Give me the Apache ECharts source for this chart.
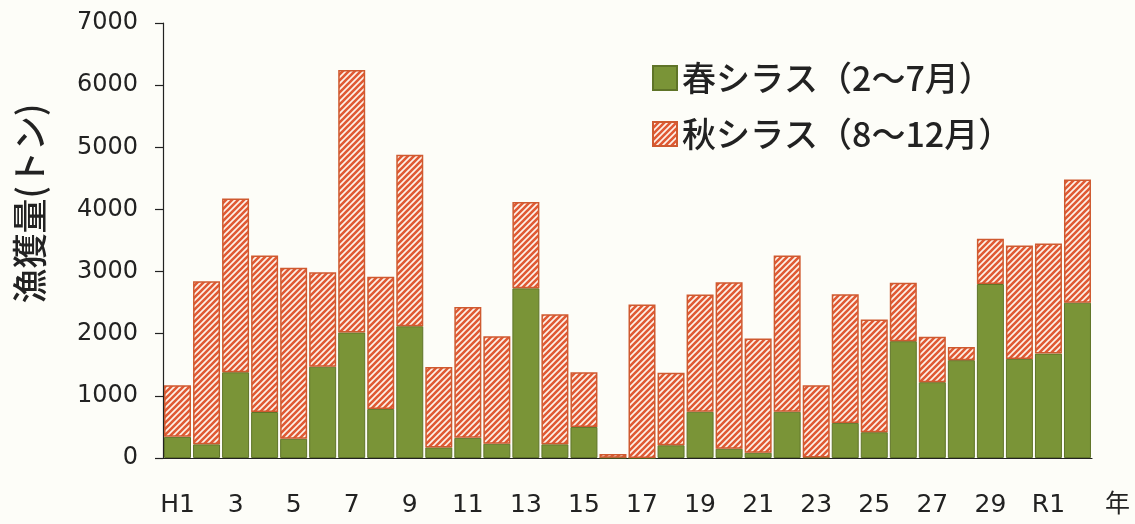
<!DOCTYPE html>
<html>
<head>
<meta charset="utf-8">
<script src="https://cdn.jsdelivr.net/npm/echarts@6/dist/echarts.min.js"></script>
<style>
html,body{margin:0;padding:0;background:#fdfdf8;}
#main{width:1135px;height:524px;}
</style>
</head>
<body>
<div id="main"></div>
<script>
const categories = ['H1','2','3','4','5','6','7','8','9','10','11','12','13','14','15','16','17','18','19','20','21','22','23','24','25','26','27','28','29','30','R1','R2'];
const springValues = [340,220,1380,740,310,1470,2020,790,2120,170,325,230,2730,220,500,5,0,205,745,150,85,745,10,565,415,1880,1220,1575,2800,1595,1680,2500];
const autumnValues = [830,2625,2795,2520,2750,1520,4225,2125,2760,1295,2105,1730,1390,2095,880,60,2470,1165,1885,2680,1840,2515,1160,2070,1815,940,730,210,730,1825,1770,1980];
const yTicks = {min:0, max:7000, interval:1000};
const seriesNames = ['春シラス（2～7月）','秋シラス（8～12月）'];

function makeHatch(){
  const s = 6;
  const c = document.createElement('canvas');
  c.width = s; c.height = s;
  const g = c.getContext('2d');
  g.fillStyle = '#fdf3ea';
  g.fillRect(0,0,s,s);
  g.strokeStyle = '#e05a34';
  g.lineWidth = 2.6;
  g.beginPath();
  g.moveTo(-1, s+1); g.lineTo(s+1, -1);
  g.moveTo(-1, 1); g.lineTo(1, -1);
  g.moveTo(s-1, s+1); g.lineTo(s+1, s-1);
  g.stroke();
  return c;
}
const hatch = {image: makeHatch(), repeat: 'repeat'};

const chart = echarts.init(document.getElementById('main'));
chart.setOption({
  backgroundColor: '#fdfdf8',
  animation: false,
  grid: {left:163, right:43, top:23, bottom:66},
  legend: {
    orient: 'vertical', left: 647, top: 56,
    itemWidth: 24, itemHeight: 24, itemGap: 22, icon: 'rect',
    textStyle: {fontFamily: '"Noto Sans CJK JP"', fontSize: 34, lineHeight: 34, color: '#222', fontWeight: 500},
    data: seriesNames
  },
  xAxis: {
    type: 'category',
    data: categories,
    name: '年',
    nameLocation: 'end',
    nameGap: 13,
    nameTextStyle: {fontFamily: '"Noto Sans CJK JP"', fontSize: 25, color: '#222', verticalAlign: 'top', padding: [32,0,0,0]},
    axisLine: {lineStyle: {color: '#222', width: 1.2}},
    axisTick: {interval: 1, length: 12, lineStyle: {color: '#222', width: 1.2}},
    axisLabel: {interval: 1, margin: 35, fontFamily: '"DejaVu Sans"', fontSize: 25, color: '#222'}
  },
  yAxis: {
    type: 'value',
    min: yTicks.min, max: yTicks.max, interval: yTicks.interval,
    name: '漁獲量(トン)',
    nameLocation: 'middle',
    nameRotate: 90,
    nameGap: 116,
    nameTextStyle: {fontFamily: '"Noto Sans CJK JP"', fontSize: 35, color: '#222', fontWeight: 500, padding: [0,0,0,74]},
    splitLine: {show: false},
    axisLine: {show: true, lineStyle: {color: '#222', width: 1.2}},
    axisTick: {show: true, length: 8, lineStyle: {color: '#222', width: 1.2}},
    axisLabel: {margin: 25, fontFamily: '"DejaVu Sans"', fontSize: 24, color: '#222', formatter: function(v){ return String(v); }}
  },
  series: [
    {
      name: seriesNames[0], type: 'bar', stack: 'total', data: springValues,
      barCategoryGap: '7%',
      itemStyle: {color: '#7a9437', borderColor: '#5f7428', borderWidth: 1}
    },
    {
      name: seriesNames[1], type: 'bar', stack: 'total', data: autumnValues,
      barCategoryGap: '7%',
      itemStyle: {color: hatch, borderColor: '#cf5a30', borderWidth: 1.5}
    }
  ]
});
</script>
</body>
</html>
